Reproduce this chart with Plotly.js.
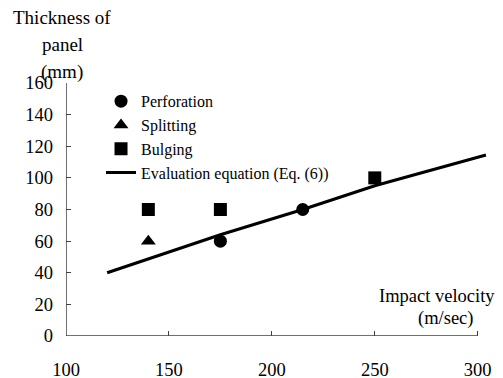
<!DOCTYPE html>
<html>
<head>
<meta charset="utf-8">
<script src="https://cdn.plot.ly/plotly-3.0.1.min.js"></script>
<style>
  html, body { margin: 0; padding: 0; background: #fff; }
  #chart { width: 503px; height: 378px; }
</style>
</head>
<body>
<div id="chart"></div>
<script>
// Panel thickness (mm) against impact velocity (m/sec) by failure mode
const perforationVelocity = [175, 215];
const perforationThickness = [60, 80];

const splittingVelocity = [140];
const splittingThickness = [60];

const bulgingVelocity = [140, 175, 250];
const bulgingThickness = [80, 80, 100];

// Evaluation equation (Eq. (6)) curve
const equationVelocity = [120, 175, 215, 250, 304];
const equationThickness = [40, 64, 80, 95, 114.5];

const xTickValues = [100, 150, 200, 250, 300];
const yTickValues = [0, 20, 40, 60, 80, 100, 120, 140, 160];

const serif = "'Liberation Serif', 'Times New Roman', Times, serif";
const axisColor = '#404040';

const traces = [
  {
    x: perforationVelocity, y: perforationThickness,
    name: 'Perforation', type: 'scatter', mode: 'markers',
    marker: { symbol: 'circle', size: 13, color: '#000' }
  },
  {
    x: splittingVelocity, y: splittingThickness,
    name: 'Splitting', type: 'scatter', mode: 'markers',
    marker: { symbol: 'triangle-up', size: 13, color: '#000' }
  },
  {
    x: bulgingVelocity, y: bulgingThickness,
    name: 'Bulging', type: 'scatter', mode: 'markers',
    marker: { symbol: 'square', size: 13, color: '#000' }
  },
  {
    x: equationVelocity, y: equationThickness,
    name: 'Evaluation equation (Eq. (6))', type: 'scatter', mode: 'lines',
    line: { color: '#000', width: 3 }
  }
];

const layout = {
  width: 503, height: 378,
  margin: { l: 66, r: 15, t: 83, b: 42 },
  paper_bgcolor: '#fff', plot_bgcolor: '#fff',
  font: { family: serif, size: 18.5, color: '#000' },
  showlegend: true,
  legend: {
    x: 0.083, y: 0.995, xanchor: 'left', yanchor: 'top',
    bgcolor: 'rgba(0,0,0,0)', borderwidth: 0,
    font: { family: serif, size: 16, color: '#000' }
  },
  xaxis: {
    range: [100, 305],
    tickvals: xTickValues,
    ticktext: xTickValues.map(String),
    ticks: 'inside', ticklen: 5, tickwidth: 1, tickcolor: axisColor,
    showline: false, showgrid: false, zeroline: false,
    ticklabelstandoff: 20,
    tickfont: { family: serif, size: 18.5, color: '#000' }
  },
  yaxis: {
    range: [0, 160],
    tickvals: yTickValues,
    ticktext: yTickValues.map(String),
    ticks: 'inside', ticklen: 5, tickwidth: 1, tickcolor: axisColor,
    showline: false, showgrid: false, zeroline: false,
    ticklabelstandoff: 12,
    tickfont: { family: serif, size: 18.5, color: '#000' }
  },
  shapes: [
    { type: 'line', xref: 'x', yref: 'y', x0: 100, x1: 300, y0: 0, y1: 0,
      line: { color: axisColor, width: 1.5 } },
    { type: 'line', xref: 'x', yref: 'y', x0: 100, x1: 100, y0: 0, y1: 160,
      line: { color: axisColor, width: 1.5 } }
  ],
  annotations: [
    { text: 'Thickness of', xref: 'paper', yref: 'paper',
      x: (62 - 66) / 422, y: (336 - 18) / 253, xanchor: 'center', yanchor: 'middle',
      showarrow: false, font: { family: serif, size: 19, color: '#000' } },
    { text: 'panel', xref: 'paper', yref: 'paper',
      x: (62 - 66) / 422, y: (336 - 45) / 253, xanchor: 'center', yanchor: 'middle',
      showarrow: false, font: { family: serif, size: 19, color: '#000' } },
    { text: '(mm)', xref: 'paper', yref: 'paper',
      x: (62 - 66) / 422, y: (336 - 72) / 253, xanchor: 'center', yanchor: 'middle',
      showarrow: false, font: { family: serif, size: 19, color: '#000' } },
    { text: 'Impact velocity', xref: 'paper', yref: 'paper',
      x: (437 - 66) / 422, y: (336 - 296) / 253, xanchor: 'center', yanchor: 'middle',
      showarrow: false, font: { family: serif, size: 18.5, color: '#000' } },
    { text: '(m/sec)', xref: 'paper', yref: 'paper',
      x: (445 - 66) / 422, y: (336 - 318) / 253, xanchor: 'center', yanchor: 'middle',
      showarrow: false, font: { family: serif, size: 18.5, color: '#000' } }
  ]
};

Plotly.newPlot('chart', traces, layout, { displayModeBar: false, staticPlot: true });
</script>
</body>
</html>
